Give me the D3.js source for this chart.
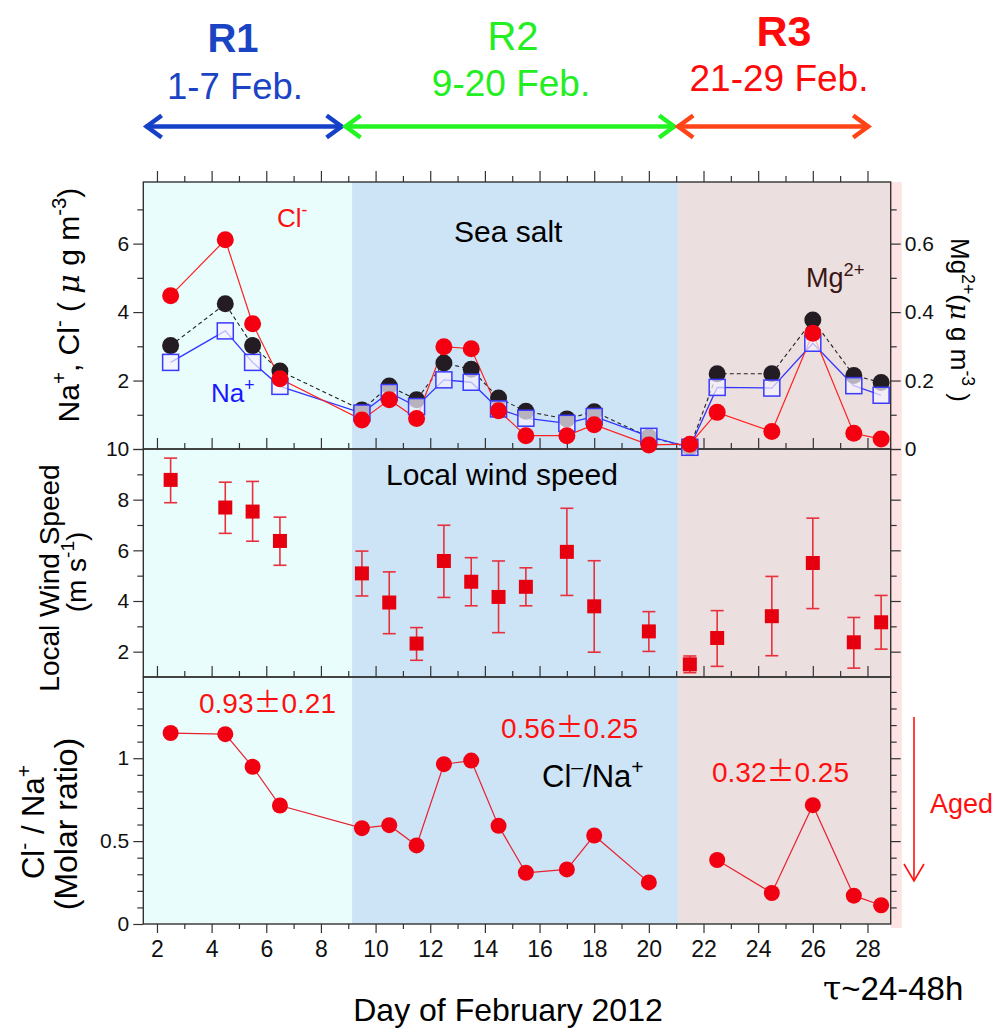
<!DOCTYPE html>
<html><head><meta charset="utf-8">
<script src="https://cdn.jsdelivr.net/npm/d3@7"></script>
<style>body{margin:0;background:#fff} svg{display:block} text{font-family:"Liberation Sans",Arial,sans-serif}</style>
</head><body><svg id="c" width="1004" height="1030"></svg>
<script>
// ---------------- data ----------------
const days = [2.5,4.5,5.5,6.5,9.5,10.5,11.5,12.5,13.5,14.5,15.5,17,18,20,21.5,22.5,24.5,26,27.5,28.5];
const chloride = [4.48,6.11,3.66,2.05,0.85,1.44,0.89,2.99,2.93,1.12,0.39,0.39,0.71,0.12,0.14,1.07,0.51,3.38,0.46,0.29];
const sodium = [2.53,3.45,2.53,1.83,1.05,1.65,1.24,2.02,1.95,1.17,0.90,0.75,0.95,0.37,0.05,1.80,1.78,3.09,1.85,1.57];
const magnesium = [0.302,0.424,0.302,0.228,0.114,0.184,0.144,0.251,0.233,0.149,0.110,0.088,0.109,0.035,0.005,0.220,0.220,0.377,0.215,0.194];
const windSpeed = [8.78,7.69,7.53,6.37,5.09,3.94,2.32,5.58,4.76,4.16,4.56,5.94,3.79,2.80,1.50,2.54,3.40,5.50,2.37,3.16];
const windHigh = [9.64,8.69,8.72,7.31,5.97,5.15,2.95,6.99,5.71,5.58,5.31,7.66,5.59,3.58,1.83,3.62,4.97,7.27,3.35,4.22];
const windLow = [7.88,6.67,6.36,5.41,4.20,2.71,1.66,4.14,3.81,2.75,3.81,4.22,1.98,2.01,1.17,1.42,1.84,3.70,1.35,2.10];
const ratio = [1.152,1.145,0.948,0.715,0.578,0.596,0.474,0.964,0.986,0.592,0.309,0.329,0.534,0.251,null,0.386,0.187,0.717,0.171,0.113];
const regionNames = ["R1","R2","R3"];
const regionDates = ["1-7 Feb.","9-20 Feb.","21-29 Feb."];
const regionStart = [1.5, 9.14, 21.07];
const regionEnd = [9.14, 21.07, 28.85];
const arrowStart = [1.55, 8.83, 21.0];
const arrowEnd = [8.83, 21.0, 28.1];
const regionMeanRatio = [["0.93","0.21"],["0.56","0.25"],["0.32","0.25"]];
const xMajor = [2,4,6,8,10,12,14,16,18,20,22,24,26,28];
const xMinor = [3,5,7,9,11,13,15,17,19,21,23,25,27];
const topMajor = [0,2,4,6], topMinor = [1,3,5,7];
const mgMajor = [0,0.2,0.4,0.6], mgMinor = [0.1,0.3,0.5,0.7];
const midMajor = [2,4,6,8,10], midMinor = [3,5,7,9];
const botMajor = [0,0.5,1], botMinor = [0.1,0.2,0.3,0.4,0.6,0.7,0.8,0.9,1.1,1.2,1.3,1.4];

// ---------------- setup ----------------
const svg = d3.select("#c");
const FONT = "Liberation Sans, Arial, sans-serif";
const x = d3.scaleLinear().domain([1.5, 28.85]).range([143.3, 890.7]);
const yTop = d3.scaleLinear().domain([0, 7.8]).range([449, 182]);
const yMg = d3.scaleLinear().domain([0, 0.78]).range([449, 182]);
const yMid = d3.scaleLinear().domain([1, 10]).range([677, 449]);
const yBot = d3.scaleLinear().domain([0, 1.49]).range([924, 677]);
const X0 = x.range()[0], X1 = x.range()[1];

const regionFill = ["#e9fdfd", "#cde4f6", "#ecdfdf"];
const headColor = ["#1b44c4", "#22ee22", "#ff0a0a"];
const arrowColor = ["#1540c8", "#22f522", "#ff4417"];

// backgrounds
svg.append("rect").attr("x", X1).attr("y", 182).attr("width", 11).attr("height", 746).attr("fill", "#fde3e3");
regionNames.forEach((r, i) => {
  svg.append("rect").attr("x", x(regionStart[i])).attr("y", 182)
    .attr("width", x(regionEnd[i]) - x(regionStart[i])).attr("height", 924 - 182)
    .attr("fill", regionFill[i]);
});

// ---------------- axes ----------------
function axis(gen, tx, ty, fs) {
  const g = svg.append("g").attr("transform", `translate(${tx},${ty})`).call(gen);
  g.select(".domain").remove();
  g.selectAll("line").attr("stroke", "#333").attr("stroke-width", 1.2);
  g.attr("font-size", fs).attr("font-family", FONT);
  g.selectAll("text").attr("fill", "#111");
  return g;
}
const fmt = d3.format("~g");
// left (the top panel's 0 shares its position with the middle panel's 10, so only "10" is written)
axis(d3.axisLeft(yTop).tickValues(topMajor).tickSize(10).tickPadding(4).tickFormat(d => d === 0 ? "" : fmt(d)), X0, 0, 21);
axis(d3.axisLeft(yTop).tickValues(topMinor).tickSize(6).tickFormat(""), X0, 0, 21);
[[yMid, midMajor, midMinor], [yBot, botMajor, botMinor]].forEach(([s, M, m]) => {
  axis(d3.axisLeft(s).tickValues(M).tickSize(10).tickPadding(4).tickFormat(fmt), X0, 0, 21);
  axis(d3.axisLeft(s).tickValues(m).tickSize(6).tickFormat(""), X0, 0, 21);
});
// right
axis(d3.axisRight(yMg).tickValues(mgMajor).tickSize(10).tickPadding(4).tickFormat(fmt), X1, 0, 21);
axis(d3.axisRight(yMg).tickValues(mgMinor).tickSize(6).tickFormat(""), X1, 0, 21);
axis(d3.axisRight(yMid).tickValues(midMajor).tickSize(10).tickFormat(""), X1, 0, 21);
axis(d3.axisRight(yMid).tickValues(midMinor).tickSize(6).tickFormat(""), X1, 0, 21);
axis(d3.axisRight(yBot).tickValues([0.5, 1]).tickSize(10).tickFormat(""), X1, 0, 21);
axis(d3.axisRight(yBot).tickValues(botMinor).tickSize(6).tickFormat(""), X1, 0, 21);
// top edges of each panel
[yTop, yMid, yBot].forEach(s => {
  axis(d3.axisTop(x).tickValues(xMajor).tickSize(11).tickFormat(""), 0, s.range()[1], 23);
  axis(d3.axisTop(x).tickValues(xMinor).tickSize(6).tickFormat(""), 0, s.range()[1], 23);
});
// bottom
axis(d3.axisBottom(x).tickValues(xMajor).tickSize(9).tickPadding(8).tickFormat(fmt), 0, 924, 23);
axis(d3.axisBottom(x).tickValues(xMinor).tickSize(5).tickFormat(""), 0, 924, 23);

// frames
[yTop, yMid, yBot].forEach(s => {
  svg.append("rect").attr("x", X0).attr("y", s.range()[1]).attr("width", X1 - X0)
    .attr("height", s.range()[0] - s.range()[1]).attr("fill", "none")
    .attr("stroke", "#333").attr("stroke-width", 1.4);
});

// ---------------- top panel data ----------------
const idx = d3.range(days.length);
const lineMg = d3.line().x(i => x(days[i])).y(i => yMg(magnesium[i]));
const lineNa = d3.line().x(i => x(days[i])).y(i => yTop(sodium[i]));
const lineCl = d3.line().x(i => x(days[i])).y(i => yTop(chloride[i]));
svg.append("path").attr("d", lineMg(idx)).attr("fill", "none").attr("stroke", "#222")
  .attr("stroke-width", 1.1).attr("stroke-dasharray", "4,3");
svg.append("path").attr("d", lineNa(idx)).attr("fill", "none").attr("stroke", "#3333ff").attr("stroke-width", 1.3);
svg.append("path").attr("d", lineCl(idx)).attr("fill", "none").attr("stroke", "#ff2020").attr("stroke-width", 1.2);
svg.append("g").selectAll("circle").data(idx).join("circle")
  .attr("cx", i => x(days[i])).attr("cy", i => yMg(magnesium[i])).attr("r", 8.5)
  .attr("fill", "#231c22");
svg.append("g").selectAll("rect").data(idx).join("rect")
  .attr("x", i => x(days[i]) - 8).attr("y", i => yTop(sodium[i]) - 8)
  .attr("width", 16).attr("height", 16)
  .attr("fill", "#f6f2ff").attr("fill-opacity", 0.7)
  .attr("stroke", "#3a3aff").attr("stroke-width", 1.5);
svg.append("g").selectAll("circle").data(idx).join("circle")
  .attr("cx", i => x(days[i])).attr("cy", i => yTop(chloride[i])).attr("r", 8.5)
  .attr("fill", "#f50010");

// ---------------- middle panel ----------------
const eb = svg.append("g").attr("stroke", "#e8303c").attr("stroke-width", 1.6);
idx.forEach(i => {
  const cx = x(days[i]);
  eb.append("line").attr("x1", cx).attr("x2", cx).attr("y1", yMid(windHigh[i])).attr("y2", yMid(windLow[i]));
  eb.append("line").attr("x1", cx - 6.5).attr("x2", cx + 6.5).attr("y1", yMid(windHigh[i])).attr("y2", yMid(windHigh[i]));
  eb.append("line").attr("x1", cx - 6.5).attr("x2", cx + 6.5).attr("y1", yMid(windLow[i])).attr("y2", yMid(windLow[i]));
});
svg.append("g").selectAll("rect").data(idx).join("rect")
  .attr("x", i => x(days[i]) - 7).attr("y", i => yMid(windSpeed[i]) - 7)
  .attr("width", 14).attr("height", 14).attr("fill", "#e6000f");

// ---------------- bottom panel ----------------
const lineR = d3.line().defined(i => ratio[i] !== null).x(i => x(days[i])).y(i => yBot(ratio[i]));
svg.append("path").attr("d", lineR(idx)).attr("fill", "none").attr("stroke", "#e82030").attr("stroke-width", 1.2);
svg.append("g").selectAll("circle").data(idx.filter(i => ratio[i] !== null)).join("circle")
  .attr("cx", i => x(days[i])).attr("cy", i => yBot(ratio[i])).attr("r", 8)
  .attr("fill", "#f00010");

// ---------------- text helpers ----------------
function rich(t, parts, fs) {
  let cur = 0;
  parts.forEach(([s, k]) => {
    const ts = t.append("tspan").text(s);
    let target = 0;
    if (k === "sup") { target = -0.42 * fs; ts.attr("font-size", fs * 0.68); }
    if (k === "it") { ts.attr("font-style", "italic").attr("font-family", "DejaVu Serif, serif"); }
    if (k === "serif") { ts.attr("font-family", "DejaVu Serif, serif"); }
    if (k === "wide") { ts.attr("font-family", "Noto Sans CJK JP, sans-serif"); }
    if (target !== cur) { ts.attr("dy", target - cur); cur = target; }
  });
  return t;
}
function label(xp, yp, fs, color, parts, opts = {}) {
  const t = svg.append("text").attr("x", xp).attr("y", yp).attr("font-size", fs)
    .attr("fill", color).attr("font-family", FONT)
    .attr("text-anchor", opts.anchor || "start");
  if (opts.weight) t.attr("font-weight", opts.weight);
  if (opts.rotate) t.attr("transform", `rotate(${opts.rotate},${xp},${yp})`);
  return rich(t, parts, fs);
}

// header
regionNames.forEach((r, i) => {
  const nameX = [233, 513, 784][i], dateX = [235, 511, 779][i];
  label(nameX, [52, 50, 46][i], [40, 40, 43][i], headColor[i], [[r, "n"]], { anchor: "middle", weight: i === 1 ? "normal" : "bold" });
  label(dateX, [99, 96, 91][i], [36.5, 37, 37][i], headColor[i], [[regionDates[i], "n"]], { anchor: "middle" });
  const a = x(arrowStart[i]), b = x(arrowEnd[i]), y = 126.5;
  const g = svg.append("g").attr("stroke", arrowColor[i]).attr("stroke-width", 4.5).attr("fill", "none");
  g.append("line").attr("x1", a + 1).attr("x2", b - 1).attr("y1", y).attr("y2", y);
  g.append("path").attr("d", `M${a + 17},${y - 11}L${a + 2},${y}L${a + 17},${y + 11}`);
  g.append("path").attr("d", `M${b - 17},${y - 11}L${b - 2},${y}L${b - 17},${y + 11}`);
});

// in-panel labels
label(277, 227, 26, "#ff1010", [["Cl", "n"], ["-", "sup"]]);
label(454, 241.5, 30, "#000", [["Sea salt", "n"]]);
label(211, 402, 26, "#1a1aff", [["Na", "n"], ["+", "sup"]]);
label(806, 287, 27, "#3a1515", [["Mg", "n"], ["2+", "sup"]]);
label(386, 485, 30, "#000", [["Local wind speed", "n"]]);
const meanPos = [[199, 713], [501, 738], [712, 782]];
regionMeanRatio.forEach((m, i) => {
  label(meanPos[i][0], meanPos[i][1], 28, "#ff1010", [[m[0], "n"], ["\u00b1", "wide"], [m[1], "n"]]);
});
label(542, 787, 31, "#000", [["Cl", "n"], ["\u2013", "sup"], ["/Na", "n"], ["+", "sup"]]);
label(930, 813, 27, "#ff1010", [["Aged", "n"]]);
// aged arrow
const ag = svg.append("g").attr("stroke", "#ff1010").attr("stroke-width", 1.6).attr("fill", "none");
ag.append("line").attr("x1", 914).attr("x2", 914).attr("y1", 717).attr("y2", 881);
ag.append("path").attr("d", "M904,864L914,881L924,864");

// axis titles
label(79, 305, 30, "#000", [["Na", "n"], ["+", "sup"], [", Cl", "n"], ["-", "sup"], [" ( ", "n"], ["\u03bc", "it"], [" g m", "n"], ["-3", "sup"], [")", "n"]], { anchor: "middle", rotate: -90 });
label(951, 320, 26, "#000", [["Mg", "n"], ["2+", "sup"], ["(", "n"], ["\u03bc", "it"], [" g m", "n"], ["-3", "sup"], [" )", "n"]], { anchor: "middle", rotate: 90 });
label(59, 578, 28, "#000", [["Local Wind Speed", "n"]], { anchor: "middle", rotate: -90 });
label(86, 572, 28, "#000", [["(m s", "n"], ["-1", "sup"], [")", "n"]], { anchor: "middle", rotate: -90 });
label(44, 822, 31, "#000", [["Cl", "n"], ["-", "sup"], [" / Na", "n"], ["+", "sup"]], { anchor: "middle", rotate: -90 });
label(77, 824, 32, "#000", [["(Molar ratio)", "n"]], { anchor: "middle", rotate: -90 });
label(508, 1021, 32, "#000", [["Day of February 2012", "n"]], { anchor: "middle" });
label(823, 1000, 33, "#000", [["\u03c4", "serif"], ["~24-48h", "n"]]);
</script></body></html>
